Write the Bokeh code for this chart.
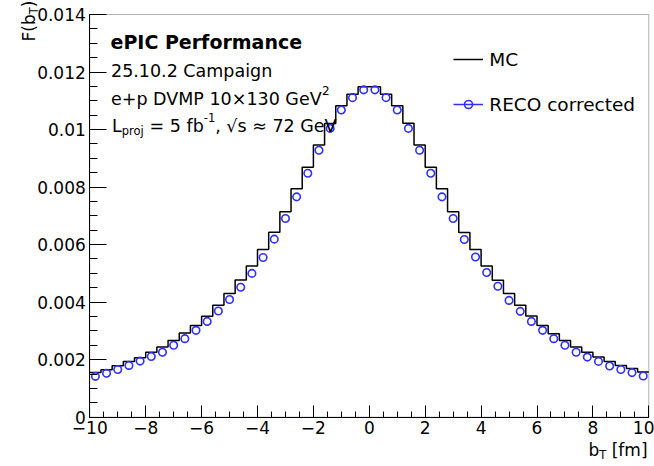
import numpy as np
from bokeh.plotting import figure
from bokeh.models import (Range1d, FixedTicker, Label, Legend, LegendItem, LinearAxis,
                          BoxAnnotation)
from bokeh.embed import file_html
from bokeh.resources import INLINE

# ---------------- data ----------------
x_lo, x_hi, n_bins = -10.0, 10.0, 50
y_lo, y_hi = 0.0, 0.014
mc_values = [0.00155, 0.00165, 0.00179, 0.00194, 0.00207, 0.00226, 0.00244, 0.00267, 0.00293, 0.00319,
             0.00351, 0.00389, 0.00430, 0.00477, 0.00526, 0.00583, 0.00643, 0.00714, 0.00794, 0.00869,
             0.00946, 0.01021, 0.01083, 0.01123, 0.01149, 0.01149, 0.01123, 0.01083, 0.01022, 0.00946,
             0.00869, 0.00794, 0.00714, 0.00642, 0.00583, 0.00526, 0.00476, 0.00430, 0.00389, 0.00352,
             0.00319, 0.00290, 0.00267, 0.00244, 0.00226, 0.00209, 0.00194, 0.00180, 0.00169, 0.00157]
reco_values = [0.00142, 0.00153, 0.00166, 0.00180, 0.00195, 0.00211, 0.00226, 0.00250, 0.00273, 0.00302,
               0.00333, 0.00369, 0.00409, 0.00452, 0.00500, 0.00555, 0.00619, 0.00691, 0.00766, 0.00848,
               0.00928, 0.01004, 0.01068, 0.01111, 0.01138, 0.01138, 0.01111, 0.01068, 0.01004, 0.00928,
               0.00848, 0.00766, 0.00691, 0.00618, 0.00557, 0.00503, 0.00455, 0.00406, 0.00368, 0.00333,
               0.00302, 0.00273, 0.00250, 0.00226, 0.00209, 0.00194, 0.00178, 0.00166, 0.00155, 0.00143]
x_major_ticks = [-10, -8, -6, -4, -2, 0, 2, 4, 6, 8, 10]
x_tick_labels = ["\u221210", "\u22128", "\u22126", "\u22124", "\u22122", "0", "2", "4", "6", "8", "10"]
y_major_ticks = [0, 0.002, 0.004, 0.006, 0.008, 0.01, 0.012, 0.014]
y_tick_labels = ["0", "0.002", "0.004", "0.006", "0.008", "0.01", "0.012", "0.014"]
series_names = ["MC", "RECO corrected"]

edges = np.linspace(x_lo, x_hi, n_bins + 1)
centers = 0.5 * (edges[:-1] + edges[1:])

# ---------------- layout (page pixels) ----------------
W, H = 654, 466
PL, PR, PT, PB = 89.3, 648.3, 14.0, 416.7      # plot-box edges in the page
FONT = "DejaVu Sans"
BLUE = "#2f2fff"

# The canvas is the whole data frame, so that texts outside the plot box are not clipped;
# the ranges are widened so that [x_lo, x_hi] x [y_lo, y_hi] lands on the plot box.
kx = (x_hi - x_lo) / (PR - PL)
ky = (y_hi - y_lo) / (PB - PT)
xr = Range1d(x_lo - PL * kx, x_hi + (W - PR) * kx)
yr = Range1d(y_lo - (H - PB) * ky, y_hi + PT * ky)

p = figure(width=W, height=H, output_backend="svg", toolbar_location=None,
           x_range=xr, y_range=yr, x_axis_location=None, y_axis_location=None,
           min_border=0, min_border_left=0, min_border_right=0, min_border_top=0,
           min_border_bottom=0)
p.background_fill_color = "white"
p.border_fill_color = "white"
p.outline_line_color = None
p.grid.visible = False

xax = LinearAxis(fixed_location=y_lo, bounds=(x_lo, x_hi))
xax.ticker = FixedTicker(ticks=x_major_ticks, minor_ticks=list(np.arange(x_lo, x_hi + 0.01, 0.5)))
xax.major_label_overrides = dict(zip(x_major_ticks, x_tick_labels))
yax = LinearAxis(fixed_location=x_lo, bounds=(y_lo, y_hi))
yax.ticker = FixedTicker(ticks=y_major_ticks, minor_ticks=list(np.arange(y_lo, y_hi + 1e-5, 0.0005)))
yax.major_label_overrides = dict(zip(y_major_ticks, y_tick_labels))

for ax, tin, mtin in ((xax, 12, 6), (yax, 17, 8)):
    ax.major_tick_in = tin
    ax.major_tick_out = 0
    ax.minor_tick_in = mtin
    ax.minor_tick_out = 0
    ax.axis_line_color = "black"
    ax.major_tick_line_color = "black"
    ax.minor_tick_line_color = "black"
    ax.major_label_text_font = FONT
    ax.major_label_text_font_size = "17px"
    ax.major_label_text_color = "black"
xax.major_label_standoff = 4
yax.major_label_standoff = 4
p.add_layout(xax, "below")
p.add_layout(yax, "left")

box = BoxAnnotation(left=x_lo, right=x_hi, bottom=y_lo, top=y_hi, fill_alpha=0,
                    line_color="black", line_width=1)
p.add_layout(box)

# ---------------- data marks ----------------
mc_r = p.step(x=edges, y=mc_values + [mc_values[-1]], mode="after",
              line_color="black", line_width=1.5)
reco_line = p.line(x=[0.0], y=[np.nan], line_color=BLUE, line_width=1.5)
reco_r = p.scatter(x=centers, y=reco_values, marker="circle", size=7.5,
                   fill_color=None, line_color=BLUE, line_width=1.6)

legend = Legend(items=[LegendItem(label=series_names[0], renderers=[mc_r]),
                       LegendItem(label=series_names[1], renderers=[reco_line, reco_r])],
                location=(453.3, H - 114.5), border_line_alpha=0, background_fill_alpha=0,
                padding=0, margin=0, glyph_width=30, glyph_height=20, label_height=20,
                spacing=24, label_standoff=6, label_text_font=FONT,
                label_text_font_size="18.5px", label_text_color="black")
p.add_layout(legend)

# ---------------- texts ----------------
WID = {' ': .318, '(': .390, ')': .390, '+': .838, ',': .318, '-': .361, '.': .318, '=': .838,
       'C': .698, 'D': .770, 'E': .632, 'F': .575, 'G': .775, 'L': .557, 'M': .863, 'O': .787,
       'P': .603, 'R': .695, 'T': .611, 'V': .684, 'a': .613, 'b': .635, 'c': .550, 'e': .615,
       'f': .352, 'g': .635, 'i': .278, 'j': .278, 'm': .974, 'n': .634, 'o': .612, 'p': .635,
       'r': .411, 's': .521, 't': .392, '[': .390, ']': .390, '\u00d7': .838, '\u221a': .636,
       '\u2248': .838}
DY = -6   # empirical baseline correction for Label rendering


def tw(s, size):
    return sum(WID.get(c, .636) for c in s) * size


def add_text(ix, iy, text, size, bold=False, angle=0.0):
    # ix, iy: page pixels of the baseline start
    lab = Label(x=ix, y=H - (iy + DY), x_units="screen", y_units="screen", text=text,
                text_font=FONT, text_font_size=f"{size}px", text_color="black",
                text_font_style="bold" if bold else "normal", text_align="left",
                text_baseline="alphabetic", angle=angle)
    p.add_layout(lab)


def add_run(ix, iy, pieces):
    # pieces: (text, size, baseline shift in px (positive = up))
    x = ix
    for text, size, shift in pieces:
        stripped = text.lstrip(" ")
        lead = tw(text[:len(text) - len(stripped)], size)
        add_text(x + lead, iy - shift, stripped.rstrip(" "), size)
        x += tw(text, size)


add_text(110, 47, "ePIC Performance", 19, bold=True)
add_text(110.5, 76, "25.10.2 Campaign", 17.5)
add_run(110.5, 104, [("e+p DVMP 10\u00d7130 GeV", 17.5, 0), ("2", 12, 8)])
add_run(111.5, 131, [("L", 17.5, 0), ("proj", 11.5, -5), (" = 5 fb", 17.5, 0), ("-1", 11.5, 8),
                     (", ", 17.5, 0), ("\u221as", 17.5, 0), (" \u2248 72 GeV", 17.5, 0)])

# x-axis title (right-aligned at the plot-box end)
xt = [("b", 17, 0), ("T", 11.5, -5), (" [fm]", 17, 0)]
total = sum(tw(t, s) for t, s, _ in xt)
add_run(647 - total, 455, xt)

# y-axis title (rotated, ending near the plot-box top)
yt = [("F(b", 17, 0), ("T", 11.5, -5), (")", 17, 0)]
ypos = 47
for text, size, shift in yt:
    add_text(28.5 - shift, ypos, text, size, angle=np.pi / 2)
    ypos -= tw(text, size)

open("out.html", "w").write(file_html(p, INLINE))
